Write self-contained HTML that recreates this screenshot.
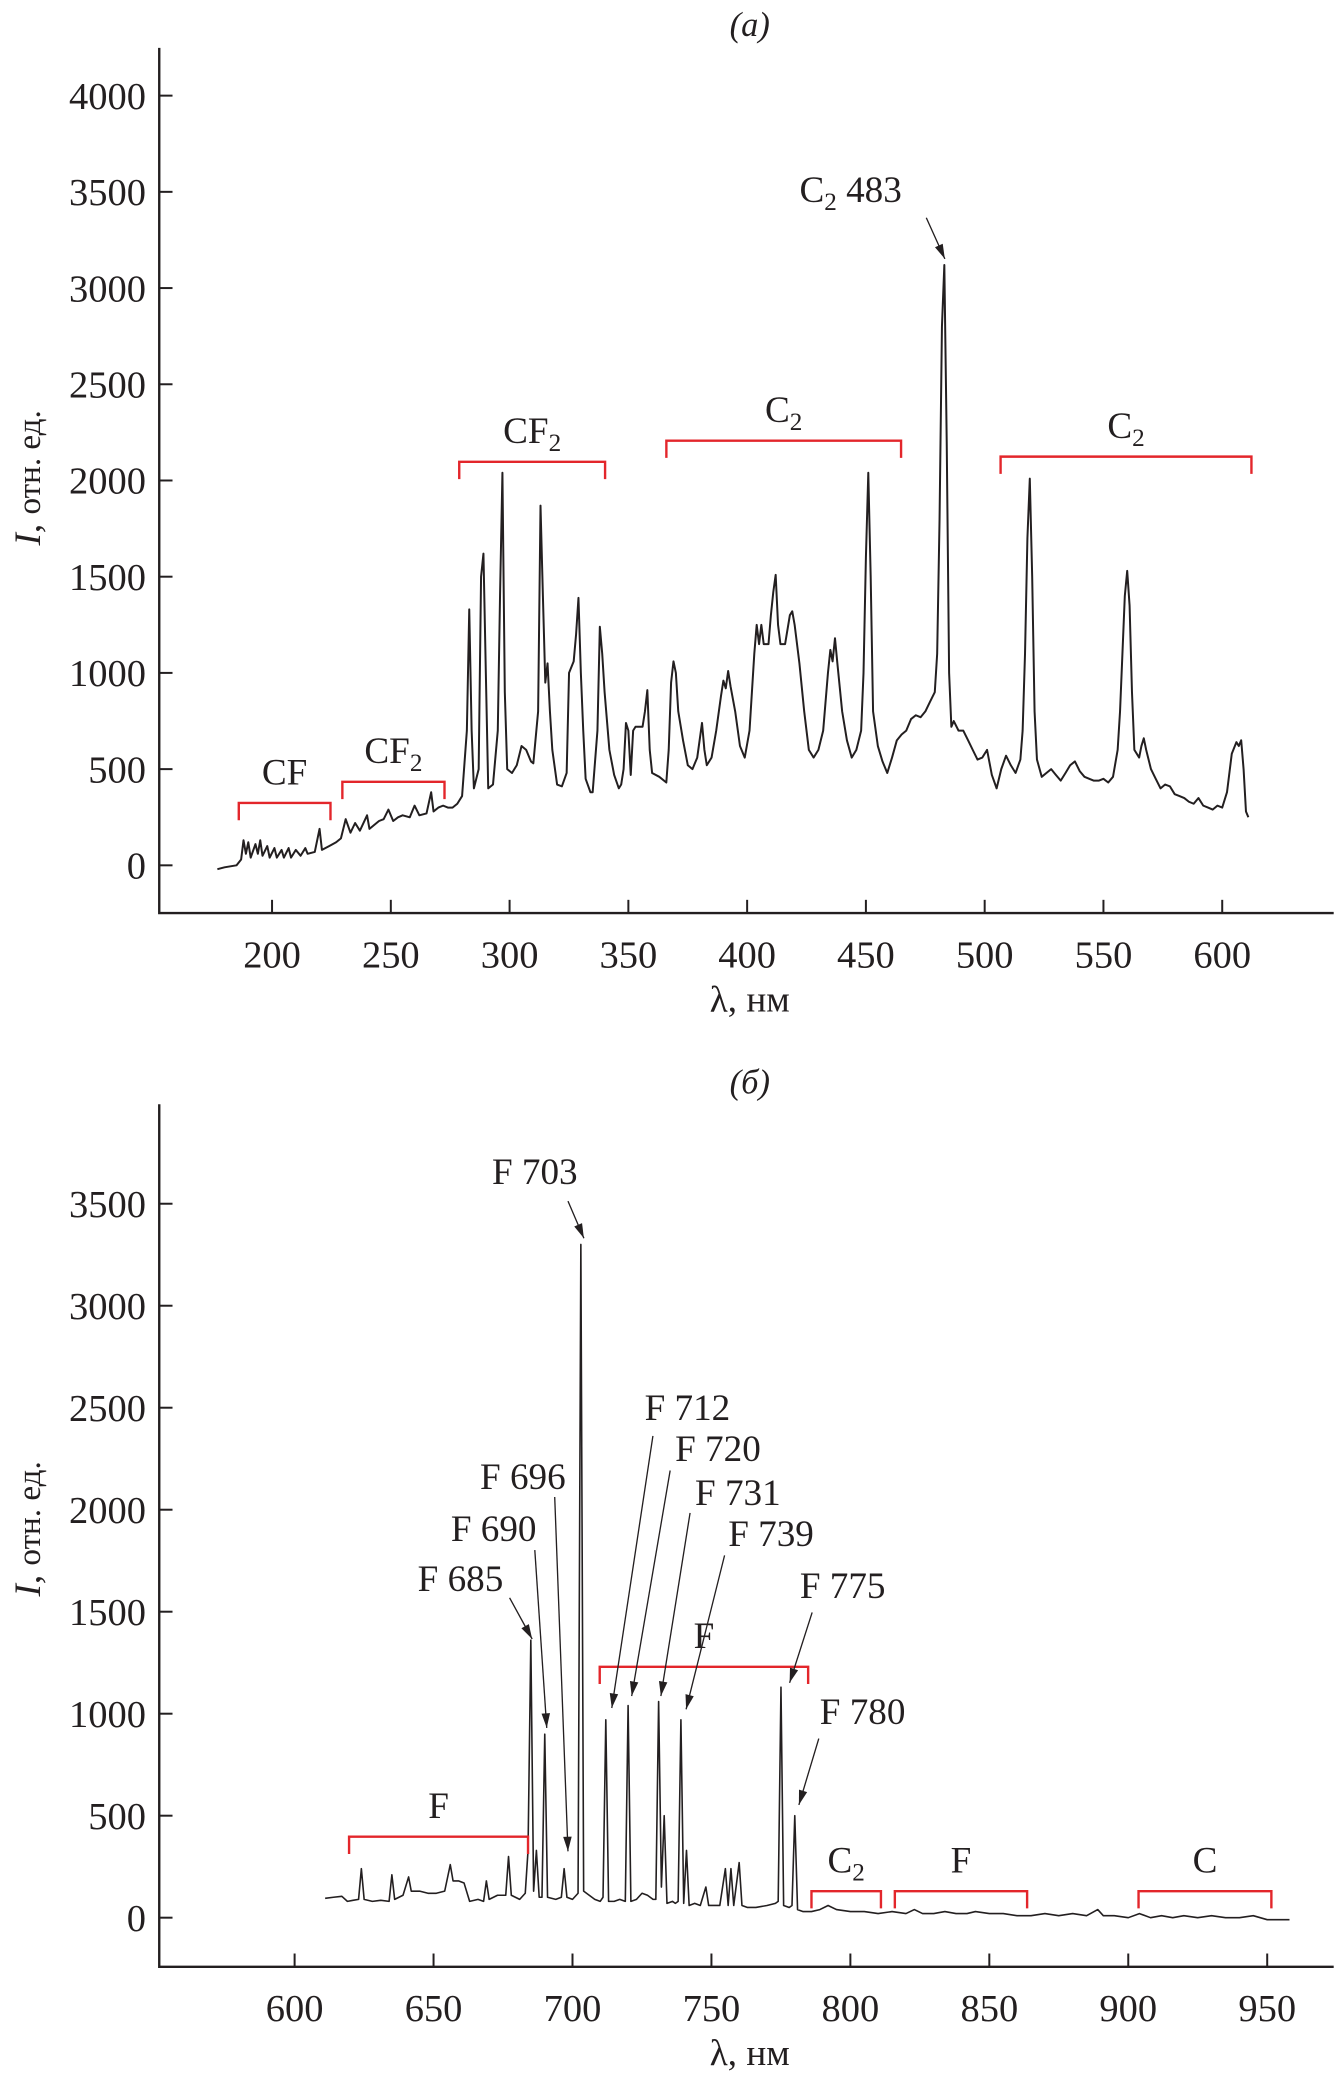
<!DOCTYPE html>
<html><head><meta charset="utf-8"><style>
html,body{margin:0;padding:0;background:#fff;}
svg{display:block;}
text{font-family:"Liberation Serif",serif;fill:#231f20;}
</style></head>
<body>
<svg id="fig" xmlns="http://www.w3.org/2000/svg" width="1339" height="2081" viewBox="0 0 1009 1568">
</svg>
<script>
// ---------- data: panel (a) ----------
const topWavelengths = [177,180,185,187,188,189,190,191,193,194,195,196,198,199,201,202,204,205,207,208,210,212,214,215,218,220,221,224,227,229,231,233,235,237,240,241,245,247,249,251,253,255,258,260,262,265,267,268,270,272,274,276,278,280,282,283,284,285,287,288,289,290,291,293,295,296,297,298,299,301,303,305,307,309,310,312,313,314,315,316,317,318,320,322,324,325,327,328,329,330,331,332,334,335,337,338,339,340,342,344,346,347,348,349,350,351,352,353,356,357,358,359,360,363,366,367,368,369,370,371,373,375,377,379,381,382,383,385,387,389,390,391,392,393,395,397,399,401,403,404,405,406,407,409,410,411,412,413,414,416,418,419,420,422,424,426,428,430,432,434,435,436,437,438,440,442,444,446,448,449,450,451,452,453,455,457,459,461,463,465,467,469,471,473,475,477,479,480,481,482,483,484,485,486,487,489,491,493,495,497,499,501,503,505,507,509,511,513,515,516,517,518,519,520,521,522,524,526,528,530,532,534,536,538,540,542,544,546,548,550,552,554,556,557,558,559,560,561,562,563,565,566,567,568,570,572,574,576,578,580,582,584,586,588,590,592,594,596,598,600,602,604,606,607,608,609,610,611];
const topIntensity = [-20,-10,0,30,130,60,120,40,110,60,130,50,100,40,90,40,80,40,90,40,80,50,90,60,70,190,80,100,120,140,240,170,220,180,260,190,230,240,290,230,250,260,250,310,260,270,380,280,300,310,300,300,320,360,700,1330,700,400,500,1500,1620,1000,400,420,700,1400,2040,900,500,480,520,620,600,540,530,800,1870,1400,950,1050,800,600,420,410,480,1000,1060,1200,1390,1000,700,450,380,380,700,1240,1100,900,600,470,400,420,500,740,700,470,700,720,720,800,910,600,480,460,430,600,950,1060,1000,800,650,520,500,560,740,600,520,560,700,880,960,920,1010,930,800,620,560,700,1100,1250,1150,1250,1150,1150,1300,1420,1510,1250,1150,1150,1300,1320,1250,1050,800,600,560,600,700,1000,1120,1060,1180,1050,800,650,560,600,700,1000,1600,2040,1500,800,620,540,480,560,650,680,700,760,780,770,800,850,900,1100,1800,2800,3120,2200,1000,720,750,700,700,650,600,550,560,600,470,400,500,570,520,480,550,700,1100,1700,2010,1500,800,550,460,480,500,470,440,480,520,540,490,460,450,440,440,450,430,460,600,800,1100,1400,1530,1350,900,600,560,620,660,600,500,450,400,420,410,370,360,350,330,320,350,310,300,290,310,300,380,580,640,620,650,500,280,250];
const topYTicks = [0,500,1000,1500,2000,2500,3000,3500,4000];
const topXTicks = [200,250,300,350,400,450,500,550,600];
const topBracketStart = [186,229.6,278.8,366,506.7];
const topBracketEnd = [224.6,272.6,340.2,464.8,612.3];
const topBracketLevel = [324,434,2097,2207,2124];
const topBracketLabel = ["CF","CF2","CF2","C2","C2"];

// ---------- data: panel (b) ----------
const botWavelengths = [611,614,617,619,621,623,624,625,628,631,634,635,636,639,641,642,645,648,651,654,656,657,659,661,663,666,668,669,670,673,676,677,678,681,683,684,685,686,687,688,689,690,691,694,696,697,698,700,702,703,704,706,708,710,711,712,713,715,717,719,720,721,723,725,727,729,730,731,732,733,734,736,737,738,739,740,741,742,744,746,748,749,751,753,755,756,757,758,760,761,763,766,770,773,774,775,776,778,779,780,781,783,786,789,792,795,800,805,810,815,820,823,826,830,834,838,842,845,850,855,860,865,870,875,880,885,889,891,895,900,904,908,912,916,920,925,930,935,940,945,950,955,958];
const botIntensity = [95,100,105,80,85,90,240,90,80,85,80,210,90,110,200,130,130,120,120,130,260,180,180,170,80,90,80,180,90,110,110,300,110,90,120,330,1360,130,330,100,100,900,100,90,100,240,100,90,120,3300,130,110,90,80,100,970,80,80,90,80,1040,80,90,120,110,90,90,1060,150,500,70,80,70,80,970,70,330,60,70,60,150,60,60,60,240,60,240,60,270,60,50,50,60,70,80,1130,60,50,60,500,40,30,30,40,60,40,30,30,20,30,20,40,20,20,30,20,20,30,20,20,10,10,20,10,20,10,40,10,10,0,20,0,10,0,10,0,10,0,0,10,-10,-10,-10];
const botYTicks = [0,500,1000,1500,2000,2500,3000,3500];
const botXTicks = [600,650,700,750,800,850,900,950];
const botBracketStart = [619.6,709.8,786,816,903.7];
const botBracketEnd = [684,784.8,811,863.6,951.5];
const botBracketLevel = [397,1230,130,130,130];
const botBracketLabel = ["F","F","C2","F","C"];
const botPeakLabels = ["F 685","F 690","F 696","F 703","F 712","F 720","F 731","F 739","F 775","F 780"];

// ---------- drawing ----------
const NS = "http://www.w3.org/2000/svg";
const svg = document.getElementById('fig');
function mk(tag, attrs, parent){
  const e = document.createElementNS(NS, tag);
  for (const k in attrs) e.setAttribute(k, attrs[k]);
  (parent||svg).appendChild(e);
  return e;
}
const RED = "#e3262b", INK = "#231f20";

function panel(cfg){
  const g = mk('g', {});
  
  
  const X = v => cfg.x0px + (v - cfg.x0v) * cfg.xs;
  const Y = v => cfg.y0px - v * cfg.ys;
  const ax = mk('path', {d:`M${cfg.axL},${cfg.axT} V${cfg.axB} H${cfg.axR}`, fill:'none', stroke:INK, 'stroke-width':1.8}, g);
  
  
  cfg.yTicks.forEach(t => {
    const y = Y(t);
    const l = mk('line', {x1:cfg.axL, x2:cfg.axL+10, y1:y, y2:y, stroke:INK, 'stroke-width':1.5}, g);
    
    
    const tx = mk('text', {x:cfg.axL-10, y:y+10, 'text-anchor':'end', 'font-size':29}, g);
    tx.textContent = t;
    
    
  });
  cfg.xTicks.forEach(t => {
    const x = X(t);
    const l = mk('line', {x1:x, x2:x, y1:cfg.axB, y2:cfg.axB-10, stroke:INK, 'stroke-width':1.5}, g);
    
    
    const tx = mk('text', {x:x, y:cfg.axB+41, 'text-anchor':'middle', 'font-size':29}, g);
    tx.textContent = t;
    
    
  });
  const xt = mk('text', {x:565, y:cfg.axB+74, 'text-anchor':'middle', 'font-size':28}, g);
  xt.textContent = 'λ, нм';
  
  
  const yt = mk('text', {transform:`translate(30,${cfg.yTitleY}) rotate(-90)`, 'text-anchor':'middle', 'font-size':28}, g);
  yt.innerHTML = '<tspan font-style="italic">I</tspan>, <tspan font-size="25">отн. ед.</tspan>';
  
  
  const pt = mk('text', {x:565, y:cfg.titleY, 'text-anchor':'middle', 'font-size':26, 'font-style':'italic'}, g);
  pt.textContent = cfg.title;
  
  
  const pts = cfg.wl.map((w,i) => X(w).toFixed(1)+','+Y(cfg.iv[i]).toFixed(1)).join(' ');
  const pl = mk('polyline', {points:pts, fill:'none', stroke:INK, 'stroke-width':cfg.lw, 'stroke-linejoin':'round'}, g);
  
  
  cfg.bs.forEach((s,i) => {
    const x1 = X(s), x2 = X(cfg.be[i]), y = Y(cfg.bl[i]);
    const b = mk('path', {d:`M${x1},${y+13} V${y} H${x2} V${y+13}`, fill:'none', stroke:RED, 'stroke-width':1.8}, g);
    
    
    const lab = cfg.blab[i];
    const t = mk('text', {x:(x1+x2)/2, y:y-14, 'text-anchor':'middle', 'font-size':28}, g);
    if (lab.endsWith('2')) t.innerHTML = lab.slice(0,-1)+'<tspan font-size="19" dy="6">2</tspan>';
    else t.textContent = lab;
    
    
  });
  return {g, X, Y};
}

function arrow(g, x1, y1, x2, y2){
  const a = mk('line', {x1, y1, x2, y2, stroke:INK, 'stroke-width':1}, g);
  
  
  const ang = Math.atan2(y2-y1, x2-x1), L = 11, W = 3.2;
  const bx = x2 - L*Math.cos(ang), by = y2 - L*Math.sin(ang);
  const px = -Math.sin(ang)*W, py = Math.cos(ang)*W;
  const h = mk('polygon', {points:`${x2},${y2} ${bx+px},${by+py} ${bx-px},${by-py}`, fill:INK}, g);
  
  
}
function label(g, txt, x, y){
  const t = mk('text', {x, y, 'text-anchor':'middle', 'font-size':28}, g);
  t.innerHTML = txt;
  
  
}

const A = panel({name:'panel-a', x0v:200, x0px:205, xs:89.5/50, y0px:652, ys:580/4000,
  axL:120, axT:36, axB:688, axR:1005, yTicks:topYTicks, xTicks:topXTicks, yTitleY:360,
  title:'(а)', titleY:27, wl:topWavelengths, iv:topIntensity, lw:1.5,
  bs:topBracketStart, be:topBracketEnd, bl:topBracketLevel, blab:topBracketLabel});
label(A.g, 'C<tspan font-size="19" dy="6">2</tspan><tspan dy="-6"> 483</tspan>', 641, 152);
arrow(A.g, 698, 164, 712, 195);

const B = panel({name:'panel-b', x0v:600, x0px:222, xs:104.7/50, y0px:1445, ys:538/3500,
  axL:120, axT:832, axB:1482, axR:1005, yTicks:botYTicks, xTicks:botXTicks, yTitleY:1152,
  title:'(б)', titleY:824, wl:botWavelengths, iv:botIntensity, lw:1.2,
  bs:botBracketStart, be:botBracketEnd, bl:botBracketLevel, blab:botBracketLabel});
const lp = [[347,1199],[372,1161],[394,1122],[403,892],[518,1070],[541,1101],[556,1134],[581,1165],[635,1204],[650,1299]];
const ar = [[384,1204,401,1235],[403,1168,412,1302],[418,1128,428,1395],[428,905,440,933],[492,1082,461,1287],[505,1108,476,1278],[520,1140,498,1278],[546,1172,517,1288],[612,1215,595,1268],[617,1310,602,1360]];
botPeakLabels.forEach((s,i) => { label(B.g, s, lp[i][0], lp[i][1]); arrow(B.g, ...ar[i]); });
</script>
</body></html>
